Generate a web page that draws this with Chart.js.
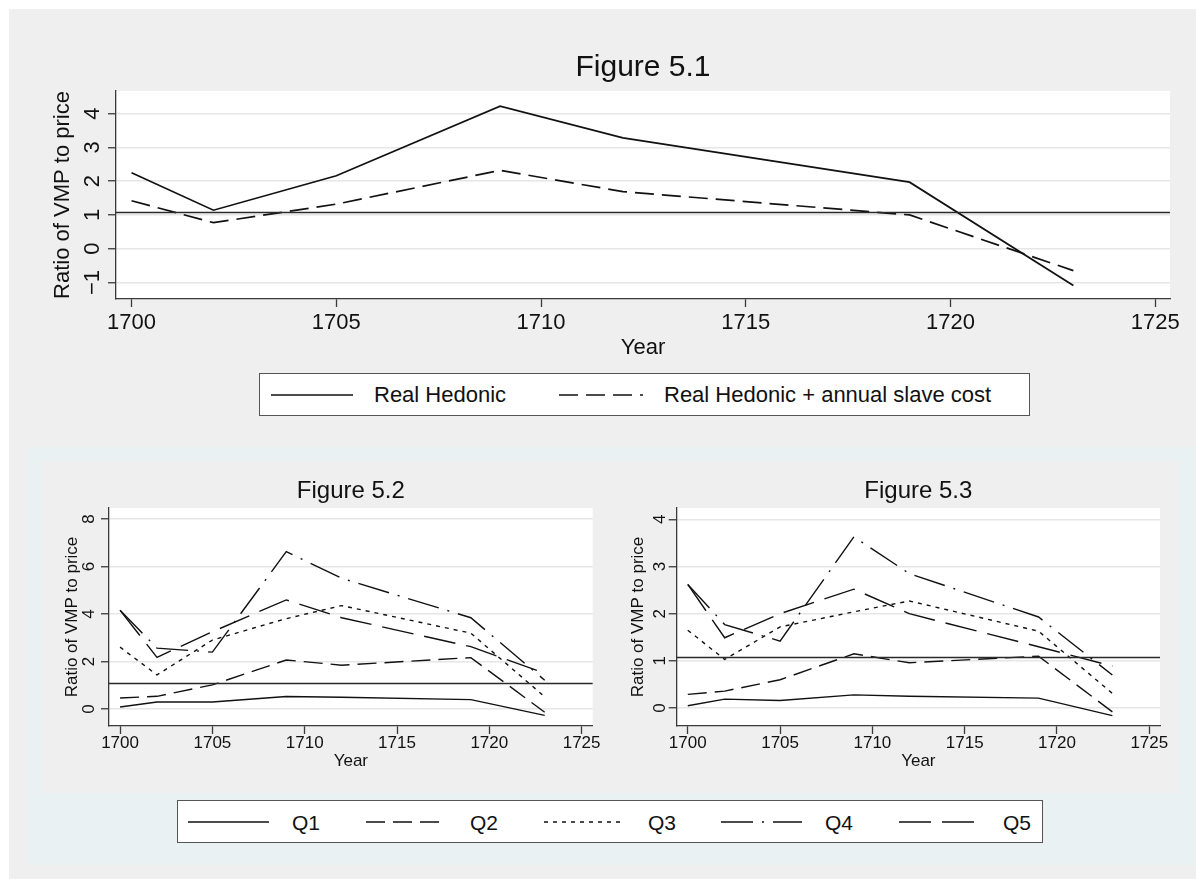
<!DOCTYPE html>
<html>
<head>
<meta charset="utf-8">
<script src="https://cdn.jsdelivr.net/npm/chart.js@4.4.1/dist/chart.umd.min.js"></script>
<style>
  html, body { margin: 0; padding: 0; background: #ffffff; }
  body { width: 1196px; height: 879px; position: relative; overflow: hidden;
         font-family: "Liberation Sans", Arial, Helvetica, sans-serif; color: #111; }
  .panel { position: absolute; }
  canvas { position: absolute; left: 0; top: 0; }
  .legend { position: absolute; background: #ffffff; border: 1px solid #555; box-sizing: border-box; }
  .legend .sample { position: absolute; top: 50%; transform: translateY(-50%); display: block; }
  .legend .text { position: absolute; top: 50%; transform: translateY(-50%); white-space: nowrap; line-height: 1; }
</style>
</head>
<body>
<div class="panel" style="left:9px;top:9px;width:1187px;height:870px;background:#efefef"></div>
<div class="panel" style="left:28px;top:447px;width:1168px;height:418px;background:#eaf1f3"></div>
<div class="panel" style="left:42px;top:461px;width:1136px;height:332px;background:#efefef"></div>

<canvas id="fig51" width="1196" height="879"></canvas>
<canvas id="fig52" width="1196" height="879"></canvas>
<canvas id="fig53" width="1196" height="879"></canvas>

<div class="legend" id="legendTop" style="left:259px;top:373px;width:771px;height:43px"></div>
<div class="legend" id="legendBottom" style="left:177px;top:800px;width:866px;height:43px"></div>

<script>
// ---- data -------------------------------------------------------------
const YEARS = [1700, 1702, 1705, 1709, 1712, 1719, 1723];
const X_TICKS = [1700, 1705, 1710, 1715, 1720, 1725];

// Figure 5.1
const realHedonic      = [2.25, 1.14, 2.16, 4.22, 3.28, 1.97, -1.09];
const realHedonicSlave = [1.42, 0.77, 1.32, 2.32, 1.69, 1.00, -0.65];
const Y_TICKS_51 = [-1, 0, 1, 2, 3, 4];

// Figure 5.2 (quintiles)
const q1_52 = [0.08, 0.29, 0.29, 0.52, 0.49, 0.39, -0.27];
const q2_52 = [0.46, 0.53, 1.01, 2.06, 1.84, 2.16, -0.14];
const q3_52 = [2.60, 1.43, 2.90, 3.80, 4.35, 3.19, 0.51];
const q4_52 = [4.15, 2.56, 2.39, 6.62, 5.50, 3.84, 1.21];
const q5_52 = [4.15, 2.17, 3.25, 4.59, 3.84, 2.62, 1.50];
const Y_TICKS_52 = [0, 2, 4, 6, 8];

// Figure 5.3 (quintiles)
const q1_53 = [0.05, 0.19, 0.16, 0.28, 0.25, 0.21, -0.16];
const q2_53 = [0.29, 0.36, 0.60, 1.15, 0.96, 1.10, -0.08];
const q3_53 = [1.65, 1.03, 1.72, 2.04, 2.27, 1.63, 0.31];
const q4_53 = [2.62, 1.77, 1.42, 3.63, 2.85, 1.93, 0.70];
const q5_53 = [2.62, 1.49, 2.00, 2.52, 2.00, 1.30, 0.89];
const Y_TICKS_53 = [0, 1, 2, 3, 4];

// level of the horizontal reference line
const REF_LINE = 1.07;

const QUINTILE_LABELS = ['Q1', 'Q2', 'Q3', 'Q4', 'Q5'];
const TOP_LABELS = ['Real Hedonic', 'Real Hedonic + annual slave cost'];

// ---- styling ------------------------------------------------------------
const FONT = '"Liberation Sans", Arial, Helvetica, sans-serif';
const INK = '#111111';
const AXIS = '#3a3a3a';
const GRID = '#e6e6e6';
const DASH_SOLID = [];
const DASH_TOP = [19, 8];
const DASH_Q2 = [19, 8];
const DASH_Q3 = [4, 5];
const DASH_Q4 = [32, 9, 2, 9];
const DASH_Q5 = [32, 11];
const QUINTILE_DASHES = [DASH_SOLID, DASH_Q2, DASH_Q3, DASH_Q4, DASH_Q5];

const fmtTick = v => (v < 0 ? '\u2212' + Math.abs(v) : String(v));

// white plot region
const plotBackground = {
  id: 'plotBackground',
  beforeDraw(chart) {
    const { ctx, chartArea: a } = chart;
    ctx.save();
    ctx.fillStyle = '#ffffff';
    ctx.fillRect(a.left, a.top, a.right - a.left, a.bottom - a.top);
    ctx.restore();
  }
};

// horizontal reference line across the plot
const refLine = {
  id: 'refLine',
  afterDatasetsDraw(chart, args, opts) {
    const { ctx, chartArea: a, scales } = chart;
    const py = scales.y.getPixelForValue(opts.value);
    ctx.save();
    ctx.strokeStyle = '#2a2a2a';
    ctx.lineWidth = opts.width;
    ctx.beginPath();
    ctx.moveTo(a.left, py);
    ctx.lineTo(a.right, py);
    ctx.stroke();
    ctx.restore();
  }
};

// rotated y tick labels, axis titles and figure title
const axisText = {
  id: 'axisText',
  afterDraw(chart, args, o) {
    const { ctx, chartArea: a, scales } = chart;
    const ys = scales.y;
    ctx.save();
    ctx.fillStyle = INK;
    ctx.textAlign = 'center';
    ctx.textBaseline = 'middle';

    ctx.font = o.tickSize + 'px ' + FONT;
    ys.ticks.forEach(t => {
      const py = ys.getPixelForValue(t.value);
      ctx.save();
      ctx.translate(o.yLabelX, py);
      ctx.rotate(-Math.PI / 2);
      ctx.fillText(fmtTick(t.value), 0, 0);
      ctx.restore();
    });

    ctx.font = o.axisTitleSize + 'px ' + FONT;
    ctx.save();
    ctx.translate(o.yTitleX, (a.top + a.bottom) / 2);
    ctx.rotate(-Math.PI / 2);
    ctx.fillText(o.yTitle, 0, 0);
    ctx.restore();

    ctx.fillText(o.xTitle, (a.left + a.right) / 2, o.xTitleY);

    ctx.font = o.titleSize + 'px ' + FONT;
    ctx.fillText(o.title, (a.left + a.right) / 2, o.titleY);
    ctx.restore();
  }
};

function makeChart(id, c) {
  const AXIS_W = 10, AXIS_H = 40;
  return new Chart(document.getElementById(id), {
    type: 'line',
    data: {
      datasets: c.series.map(s => ({
        label: s.label,
        data: YEARS.map((yr, i) => ({ x: yr, y: s.values[i] })),
        borderColor: INK,
        borderWidth: c.lineWidth,
        borderDash: s.dash,
        pointRadius: 0,
        tension: 0,
        fill: false
      }))
    },
    options: {
      responsive: false,
      animation: false,
      devicePixelRatio: 1,
      events: [],
      layout: {
        padding: {
          left: c.area.left - AXIS_W,
          top: c.area.top,
          right: 1196 - c.area.right,
          bottom: 879 - c.area.bottom - AXIS_H
        }
      },
      plugins: {
        legend: { display: false },
        tooltip: { enabled: false },
        refLine: { value: REF_LINE, width: 1.5 },
        axisText: c.text
      },
      scales: {
        x: {
          type: 'linear',
          min: c.xMin, max: c.xMax,
          afterBuildTicks: s => { s.ticks = X_TICKS.map(v => ({ value: v })); },
          afterFit: s => { s.height = AXIS_H; },
          ticks: {
            callback: v => String(v),
            color: INK,
            font: { family: FONT, size: c.text.tickSize },
            padding: c.xPad,
            maxRotation: 0, minRotation: 0, autoSkip: false
          },
          grid: { drawOnChartArea: false, drawTicks: true, tickLength: 8,
                  tickColor: AXIS, tickWidth: 1.3, color: AXIS },
          border: { display: true, color: AXIS, width: 1.3 }
        },
        y: {
          type: 'linear',
          min: c.yMin, max: c.yMax,
          afterBuildTicks: s => { s.ticks = c.yTicks.map(v => ({ value: v })); },
          afterFit: s => { s.width = AXIS_W; },
          ticks: { display: false },
          grid: { color: GRID, lineWidth: 1.5, drawTicks: true, tickLength: 8,
                  tickColor: AXIS, tickWidth: 1.3 },
          border: { display: true, color: AXIS, width: 1.3 }
        }
      }
    },
    plugins: [plotBackground, refLine, axisText]
  });
}

makeChart('fig51', {
  area: { left: 116, right: 1170, top: 91, bottom: 299 },
  xMin: 1699.62, xMax: 1725.36, yMin: -1.49, yMax: 4.67,
  yTicks: Y_TICKS_51, lineWidth: 1.7, xPad: 2.3,
  series: [
    { label: TOP_LABELS[0], values: realHedonic, dash: DASH_SOLID },
    { label: TOP_LABELS[1], values: realHedonicSlave, dash: DASH_TOP }
  ],
  text: { title: 'Figure 5.1', titleSize: 30, titleY: 67.5,
          yTitle: 'Ratio of VMP to price', axisTitleSize: 22, yTitleX: 63,
          tickSize: 22, yLabelX: 93, xTitle: 'Year', xTitleY: 347.5 }
});

const quintiles52 = [q1_52, q2_52, q3_52, q4_52, q5_52];
const quintiles53 = [q1_53, q2_53, q3_53, q4_53, q5_53];

makeChart('fig52', {
  area: { left: 109, right: 592.7, top: 508, bottom: 726 },
  xMin: 1699.40, xMax: 1725.60, yMin: -0.72, yMax: 8.46,
  yTicks: Y_TICKS_52, lineWidth: 1.4, xPad: -1.2,
  series: quintiles52.map((v, i) => ({ label: QUINTILE_LABELS[i], values: v, dash: QUINTILE_DASHES[i] })),
  text: { title: 'Figure 5.2', titleSize: 24, titleY: 491,
          yTitle: 'Ratio of VMP to price', axisTitleSize: 17, yTitleX: 72,
          tickSize: 17, yLabelX: 89, xTitle: 'Year', xTitleY: 761.5 }
});

makeChart('fig53', {
  area: { left: 676.7, right: 1160, top: 508, bottom: 726 },
  xMin: 1699.40, xMax: 1725.58, yMin: -0.38, yMax: 4.24,
  yTicks: Y_TICKS_53, lineWidth: 1.4, xPad: -1.2,
  series: quintiles53.map((v, i) => ({ label: QUINTILE_LABELS[i], values: v, dash: QUINTILE_DASHES[i] })),
  text: { title: 'Figure 5.3', titleSize: 24, titleY: 491,
          yTitle: 'Ratio of VMP to price', axisTitleSize: 17, yTitleX: 638,
          tickSize: 17, yLabelX: 660, xTitle: 'Year', xTitleY: 761.5 }
});

// ---- legends --------------------------------------------------------------
function buildLegend(boxId, items, fontSize, lineWidth) {
  const box = document.getElementById(boxId);
  items.forEach(it => {
    const svgNS = 'http://www.w3.org/2000/svg';
    const svg = document.createElementNS(svgNS, 'svg');
    svg.setAttribute('class', 'sample');
    svg.setAttribute('width', it.len);
    svg.setAttribute('height', 6);
    svg.style.left = it.x + 'px';
    const ln = document.createElementNS(svgNS, 'line');
    ln.setAttribute('x1', 0); ln.setAttribute('y1', 3);
    ln.setAttribute('x2', it.len); ln.setAttribute('y2', 3);
    ln.setAttribute('stroke', INK);
    ln.setAttribute('stroke-width', lineWidth);
    if (it.dash.length) ln.setAttribute('stroke-dasharray', it.dash.join(' '));
    svg.appendChild(ln);
    box.appendChild(svg);
    const t = document.createElement('span');
    t.className = 'text';
    t.textContent = it.label;
    t.style.left = it.textX + 'px';
    t.style.fontSize = fontSize + 'px';
    box.appendChild(t);
  });
}

buildLegend('legendTop', [
  { label: TOP_LABELS[0], dash: DASH_SOLID, x: 11, len: 82, textX: 114 },
  { label: TOP_LABELS[1], dash: DASH_TOP, x: 299, len: 84, textX: 404 }
], 22, 1.7);

const legendStarts = [10, 188, 366, 543, 721];
buildLegend('legendBottom', QUINTILE_LABELS.map((lab, i) => ({
  label: lab, dash: QUINTILE_DASHES[i], x: legendStarts[i], len: 81, textX: legendStarts[i] + 104
})), 21, 1.5);
</script>
</body>
</html>
